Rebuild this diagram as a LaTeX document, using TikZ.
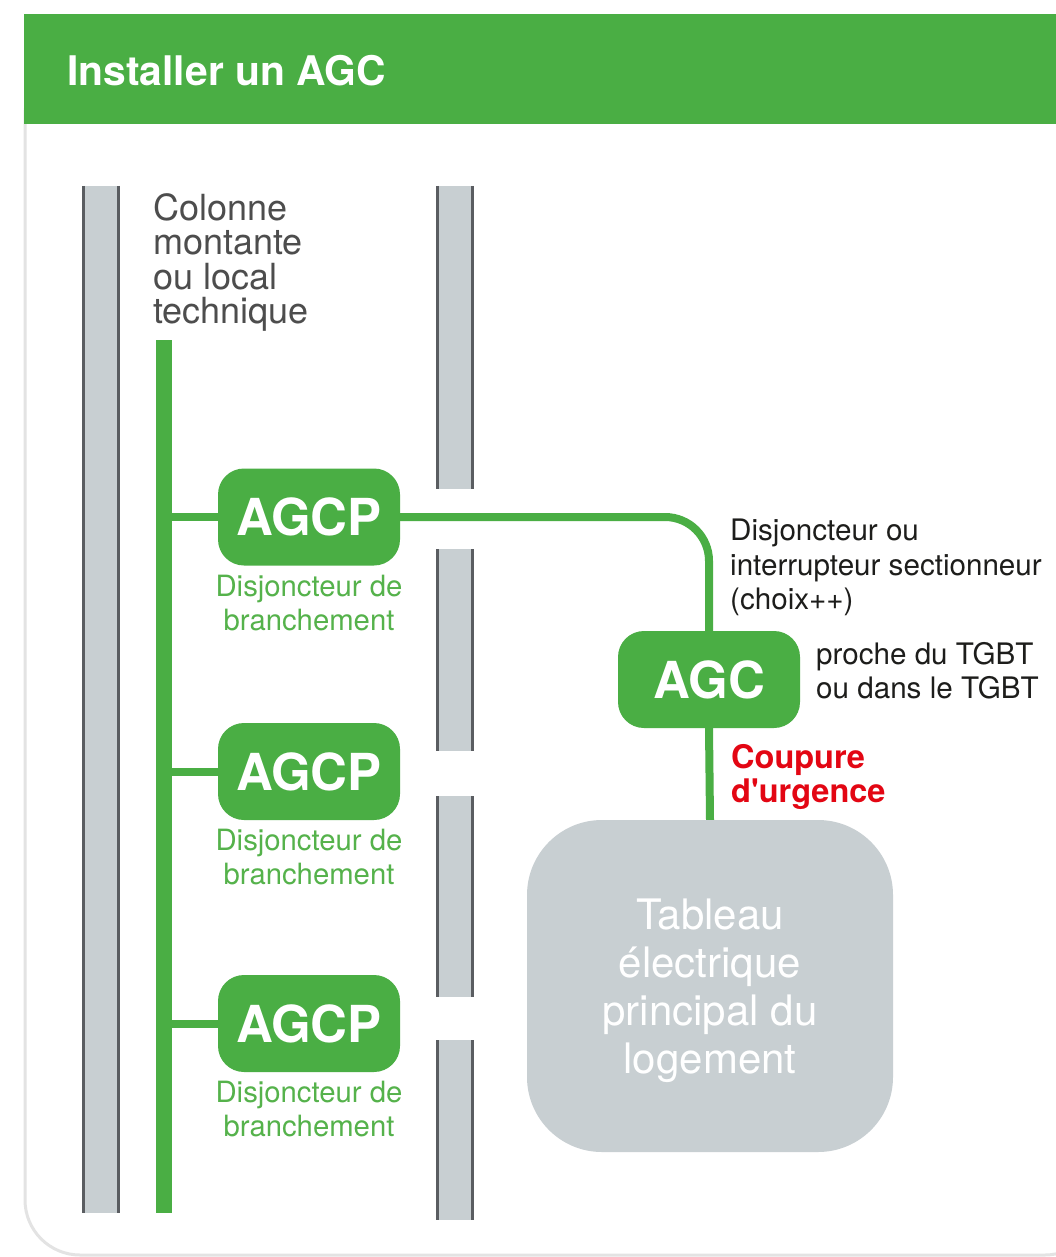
\documentclass[tikz,border=0pt]{standalone}
\usepackage{fontspec}
\setmainfont{TeX Gyre Heros}
\newfontfamily\straightfont{TeX Gyre Heros}[Ligatures=TeXOff]
\usetikzlibrary{positioning}

\definecolor{agcgreen}{HTML}{4AAE44}
\definecolor{labelgreen}{HTML}{55B24B}
\definecolor{wallgray}{HTML}{C8CFD2}
\definecolor{walledge}{HTML}{5A5D61}
\definecolor{cardline}{HTML}{E3E3E3}
\definecolor{urgred}{HTML}{E30613}
\definecolor{darktext}{HTML}{4D4D4D}
\definecolor{notetext}{HTML}{1D1D1B}

\tikzset{
  agcpbox/.style={fill=agcgreen, rounded corners=26pt, minimum width=182pt, minimum height=97pt,
    inner sep=0pt, text=white, font=\fontsize{51}{52}\selectfont\bfseries},
  feed/.style={draw=agcgreen, line width=8pt},
  brlabel/.style={anchor=north, inner sep=0pt, align=center, text=labelgreen,
    font=\fontsize{29.3}{34}\selectfont},
  note/.style={anchor=north west, inner sep=0pt, align=left, text=notetext,
    font=\fontsize{29.6}{34.5}\selectfont},
}

% wall piece: x, top, bottom
\newcommand\wallseg[3]{%
  \fill[wallgray] (#1,#2) rectangle (#1+38,#3);
  \draw[walledge,line width=3pt] (#1+1.5,#2) -- (#1+1.5,#3) (#1+36.5,#2) -- (#1+36.5,#3);
}

\begin{document}
\begin{tikzpicture}[x=1pt,y=-1pt]
\useasboundingbox (0,0) rectangle (1056,1257);
\clip (0,0) rectangle (1056,1257);

% card and header
\draw[cardline, line width=3pt, fill=white, rounded corners=55pt] (25,60) rectangle (1100,1255);
\fill[agcgreen] (24,14) rectangle (1060,124);
\node[anchor=base west, inner sep=0pt, text=white, font=\fontsize{40.8}{44}\selectfont\bfseries] at (67,86) (title){Installer un AGC};

% walls
\wallseg{82}{186}{1213}
\wallseg{436}{186}{489}
\wallseg{436}{549}{751}
\wallseg{436}{796}{997}
\wallseg{436}{1040}{1220}

\node[note, text=darktext, font=\fontsize{36}{34.5}\selectfont] at (153,193) (colonne){Colonne\\montante\\ou local\\technique};

% boxes
\node[agcpbox] at (309,517) (agcp1){AGCP};
\node[agcpbox] at (309,771.5) (agcp2){AGCP};
\node[agcpbox] at (309,1023.5) (agcp3){AGCP};
\node[agcpbox] at (709,679.5) (agc){AGC};
\node[fill=wallgray, rounded corners=75pt, minimum width=366pt, minimum height=332pt] at (710,986) (tableau){};
\node[align=center, inner sep=0pt, text=white, font=\fontsize{42}{48}\selectfont]
  at ([yshift=-5pt]tableau.center) (tableautxt){Tableau\\électrique\\principal du\\logement};

\node[brlabel, below=9pt of agcp1] (lab1){Disjoncteur de\\branchement};
\node[brlabel, below=9pt of agcp2] (lab2){Disjoncteur de\\branchement};
\node[brlabel, below=9pt of agcp3] (lab3){Disjoncteur de\\branchement};

% feed lines
\coordinate (trunktop) at (164,340);
\coordinate (trunkbot) at (164,1213);
\draw[agcgreen, line width=16pt] (trunktop) -- (trunkbot);
\path[feed]
  (agcp1.west -| trunktop) edge (agcp1.west)
  (agcp2.west -| trunktop) edge (agcp2.west)
  (agcp3.west -| trunktop) edge (agcp3.west);
\draw[feed, rounded corners=44pt] (agcp1.east) -| (agc.north);
\path[feed]
  (agc.south) edge (tableau.north);

% notes
\node[note] at (730,519) (choix){Disjoncteur ou\\interrupteur sectionneur\\(choix++)};
\node[note] at (816,642) (tgbt){proche du TGBT\\ou dans le TGBT};
\node[note, text=urgred, font=\fontsize{32.5}{34}\straightfont\bfseries] at (731,744) (urgence){Coupure\\d'urgence};

\end{tikzpicture}
\end{document}
